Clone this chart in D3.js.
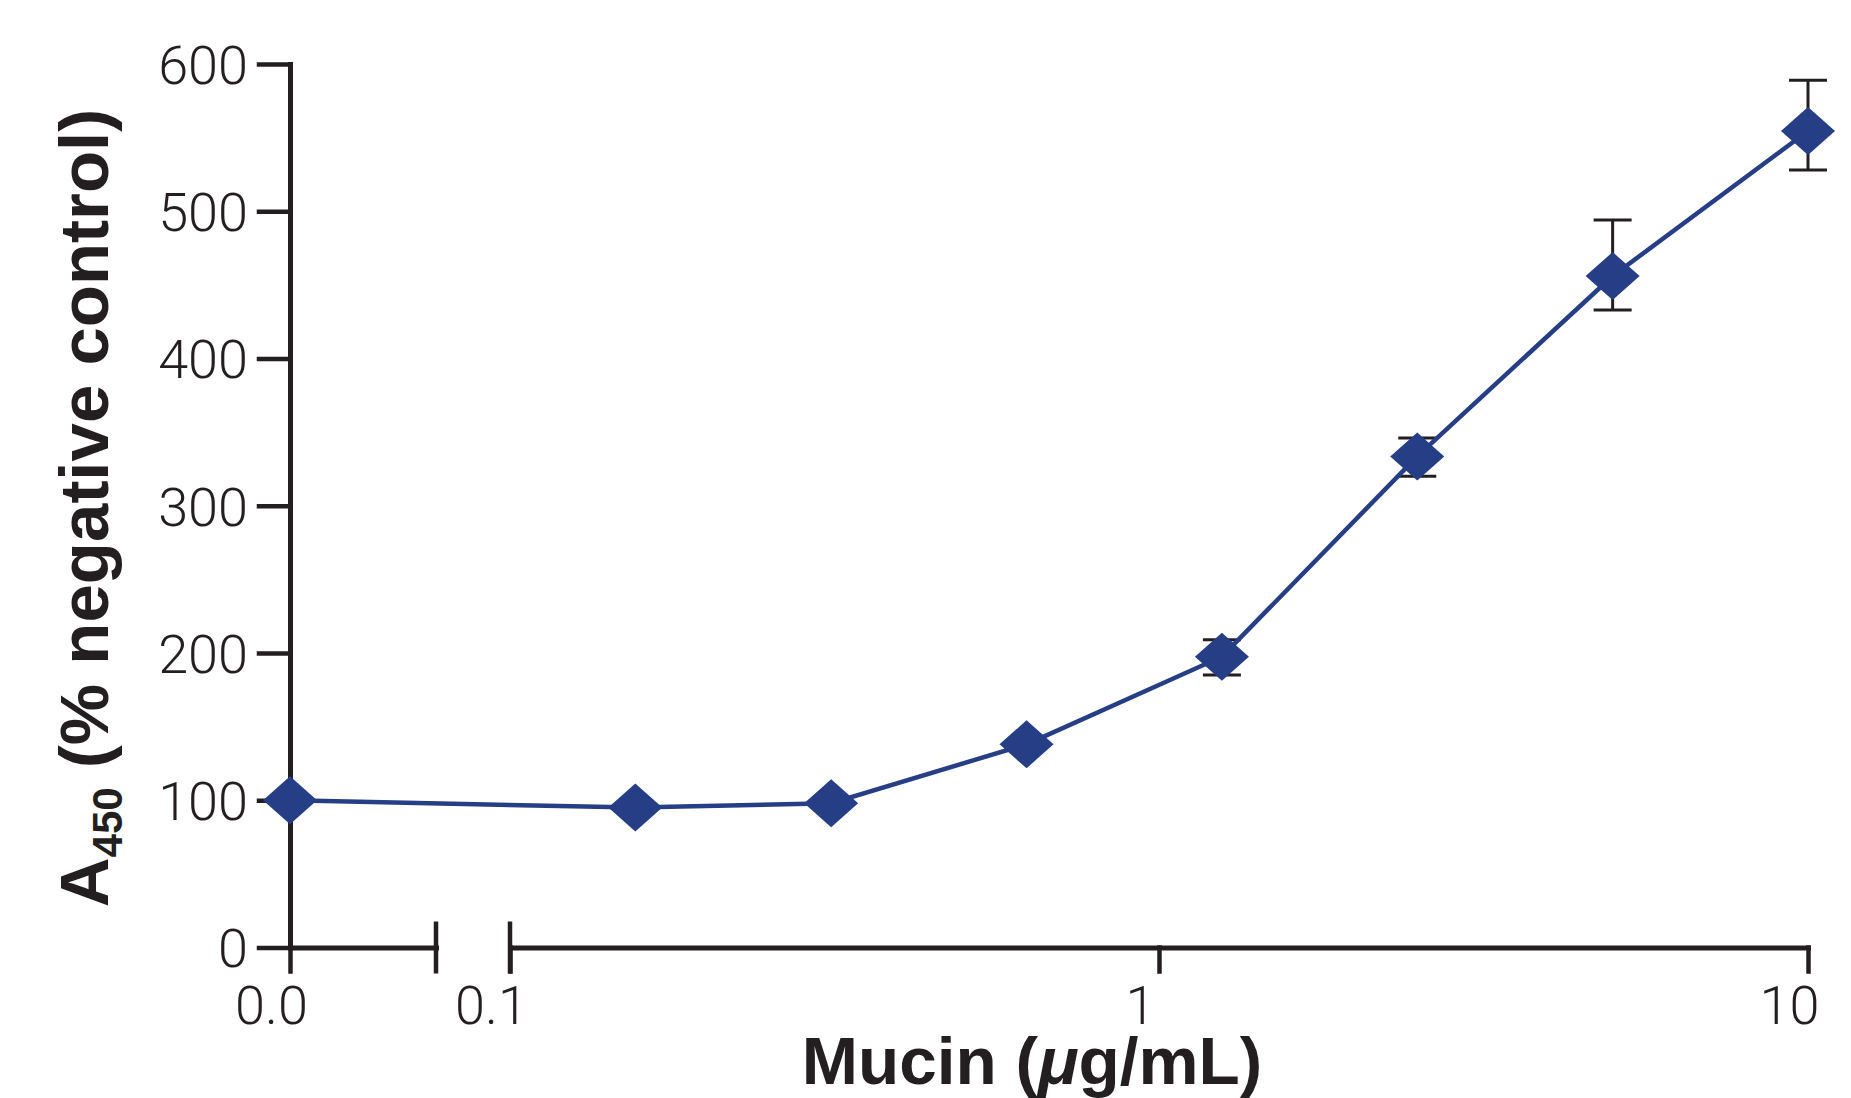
<!DOCTYPE html>
<html>
<head>
<meta charset="utf-8">
<script src="https://cdn.jsdelivr.net/npm/d3@7"></script>
<style>
    body { margin: 0; background: #fff; }
    svg { display: block; }
    .tick text { font-family: "Roboto", "Liberation Sans", sans-serif; font-weight: 300; font-size: 54px; fill: #231f20; }
    .title { font-family: "Liberation Sans", Arial, sans-serif; font-weight: bold; fill: #231f20; }
</style>
</head>
<body>
<svg id="chart" width="1851" height="1098"></svg>
<script>
"use strict";

// mucin concentrations (ug/mL), 0 = no mucin
const concentrations = [0, 0.156, 0.3125, 0.625, 1.25, 2.5, 5, 10];
// A450 as % of negative control
const meanValues = [100, 95, 98, 138, 197.5, 333.5, 456, 554.5];
// error bar ends, null where hidden by the marker
const errHigh = [null, null, null, null, 209, 346, 494, 589];
const errLow = [null, null, null, null, 185, 320, 433, 528];

const yTicks = [0, 100, 200, 300, 400, 500, 600];
const xTicksLog = [0.1, 1, 10];
const xTickLabels = ["0.1", "1", "10"];

const ink = "#231f20";
const blue = "#263e85";

let svg = d3.select("#chart");

let y = d3.scaleLinear().domain([0, 600]).range([947.5, 64]);
// short segment left of the axis break holds the zero point
let xZero = d3.scaleLinear().domain([0, 1]).range([290, 436]);
let xLog = d3.scaleLog().domain([0.1, 10]).range([510, 1808]);

function xPos(c) {
    return c === 0 ? xZero(0) : xLog(c);
}

let points = concentrations.map((c, i) => ({
    c: c,
    v: meanValues[i],
    hi: errHigh[i],
    lo: errLow[i]
}));

// y axis
let gy = svg.append("g").attr("transform", `translate(${xZero(0)},0)`)
    .call(d3.axisLeft(y).tickValues(yTicks).tickSize(31).tickPadding(11).tickSizeOuter(0));
gy.selectAll(".tick text").attr("dy", "0.36em");

// x axis, two pieces either side of the break
let gx0 = svg.append("g").attr("transform", `translate(0,${y(0)})`)
    .call(d3.axisBottom(xZero).tickValues([0]).tickFormat(() => "0.0").tickSize(24).tickPadding(14).tickSizeOuter(0));
let gx1 = svg.append("g").attr("transform", `translate(0,${y(0)})`)
    .call(d3.axisBottom(xLog).tickValues(xTicksLog).tickFormat((d, i) => xTickLabels[i]).tickSize(24).tickPadding(14).tickSizeOuter(0));
gx0.selectAll(".tick text").attr("dx", -19);
gx1.selectAll(".tick text").attr("dx", -19);

// break marks
svg.append("g").selectAll("line")
    .data([xZero.range()[1], xLog(0.1)])
    .enter().append("line")
    .attr("x1", d => d).attr("x2", d => d)
    .attr("y1", y(0) - 26).attr("y2", y(0) + 26)
    .attr("stroke", ink).attr("stroke-width", 4.5);

svg.selectAll(".domain, .tick line")
    .attr("stroke", ink)
    .attr("stroke-width", 4.5)
    .attr("stroke-linecap", "square");
svg.selectAll(".domain").attr("stroke-width", 5);

// error bars
let eb = svg.append("g").selectAll("g")
    .data(points.filter(d => d.hi !== null))
    .enter().append("g")
    .attr("stroke", ink).attr("stroke-width", 3);
eb.append("line")
    .attr("x1", d => xPos(d.c)).attr("x2", d => xPos(d.c))
    .attr("y1", d => y(d.hi)).attr("y2", d => y(d.lo));
eb.append("line")
    .attr("x1", d => xPos(d.c) - 19).attr("x2", d => xPos(d.c) + 19)
    .attr("y1", d => y(d.hi)).attr("y2", d => y(d.hi));
eb.append("line")
    .attr("x1", d => xPos(d.c) - 19).attr("x2", d => xPos(d.c) + 19)
    .attr("y1", d => y(d.lo)).attr("y2", d => y(d.lo));

// connecting line
let line = d3.line().x(d => xPos(d.c)).y(d => y(d.v));
svg.append("path").datum(points)
    .attr("d", line)
    .attr("fill", "none")
    .attr("stroke", blue)
    .attr("stroke-width", 4.5);

// diamond markers, a little wider than tall
let hw = 27, hh = 24;
svg.append("g").selectAll("path")
    .data(points)
    .enter().append("path")
    .attr("d", d => {
        let px = xPos(d.c), py = y(d.v);
        return `M${px},${py - hh}L${px + hw},${py}L${px},${py + hh}L${px - hw},${py}Z`;
    })
    .attr("fill", blue);

// axis titles
let yTitle = svg.append("text").attr("class", "title")
    .attr("transform", "translate(108,508) rotate(-90)")
    .attr("text-anchor", "middle")
    .style("font-size", "69px");
yTitle.append("tspan").text("A");
yTitle.append("tspan").text("450").style("font-size", "42px").attr("dy", 14);
yTitle.append("tspan").text(" (% negative control)").attr("dy", -14);

let xTitle = svg.append("text").attr("class", "title")
    .attr("x", 1032).attr("y", 1084)
    .attr("text-anchor", "middle")
    .style("font-size", "67.5px");
xTitle.append("tspan").text("Mucin (");
xTitle.append("tspan").text("μ").style("font-style", "italic");
xTitle.append("tspan").text("g/mL)");
</script>
</body>
</html>
